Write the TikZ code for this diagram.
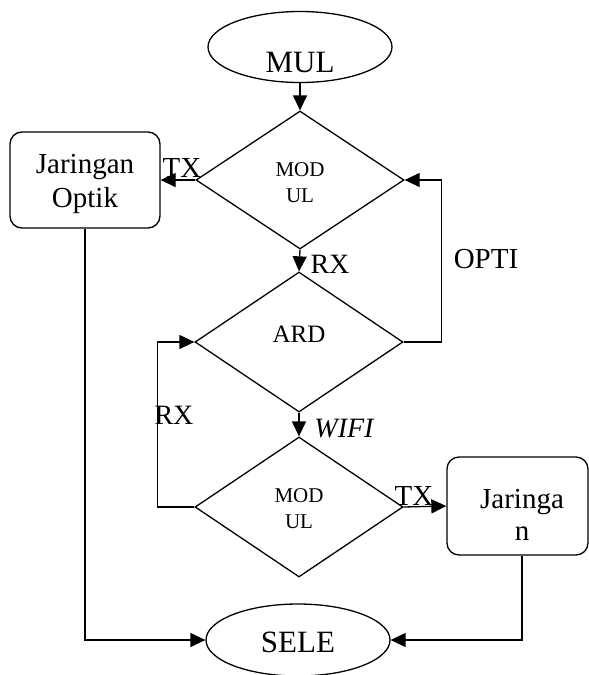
\documentclass[tikz,border=0pt]{standalone}
\usepackage{fontspec}
\setmainfont{Liberation Serif}
\usetikzlibrary{shapes.geometric,arrows.meta}
\begin{document}
\begin{tikzpicture}[x=1pt,y=-1pt,
  line width=1.3pt,
  conn/.style={-{Triangle[length=15pt,width=14pt]}},
  dia/.style={draw,diamond,minimum width=208pt,minimum height=140pt,inner sep=0pt},
  oval/.style={draw,ellipse,minimum width=184pt,minimum height=72pt,inner sep=0pt},
  box/.style={draw,rectangle,rounded corners=12pt,inner sep=0pt},
  txt/.style={anchor=base,inner sep=0pt,font=\fontsize{29}{32}\selectfont},
  bigtxt/.style={anchor=base,inner sep=0pt,font=\fontsize{31}{34}\selectfont},
  midtxt/.style={anchor=base,inner sep=0pt,font=\fontsize{25}{28}\selectfont},
  smalltxt/.style={anchor=base,inner sep=0pt,font=\fontsize{21}{24}\selectfont},
  lbltxt/.style={anchor=base,inner sep=0pt,font=\fontsize{28}{30}\selectfont}
]
\useasboundingbox (0,0) rectangle (589,675);

% shapes
\node[oval,minimum height=71pt] (mul) at (300,47) {};
\node[dia,minimum height=138pt] (d1) at (300,180) {};
\node[dia] (d2) at (299,342) {};
\node[dia] (d3) at (299,507) {};
\node[oval] (sele) at (298,640) {};
\node[box,minimum width=150pt,minimum height=96pt] (jo) at (85,180) {};
\node[box,minimum width=141pt,minimum height=98pt] (jr) at (517.5,506) {};

% texts
\node[bigtxt] (tmul) at (300,72) {MUL};
\node[smalltxt] (tmod1) at (300,176) {MOD};
\node[smalltxt] (tul1) at (300,202) {UL};
\node[midtxt] (tard) at (299,342) {ARD};
\node[smalltxt] (tmod3) at (299,502) {MOD};
\node[smalltxt] (tul3) at (299,528) {UL};
\node[bigtxt] (tsele) at (298,652) {SELE};
\node[txt] (tjo1) at (85,173) {Jaringan};
\node[txt] (tjo2) at (85,207) {Optik};
\node[txt] (tjr1) at (522,508) {Jaringa};
\node[txt] (tjr2) at (522,540) {n};

% labels
\node[txt] (ltx1) at (182,177) {TX};
\node[lbltxt] (lrx1) at (330,273) {RX};
\node[txt] (lopti) at (486,268) {OPTI};
\node[lbltxt] (lrx2) at (174,424) {RX};
\node[lbltxt] (lwifi) at (344,437) {\itshape WIFI};
\node[txt] (ltx2) at (414,505) {TX};

% connectors
\coordinate (jrb) at ([xshift=4.5pt]jr.south);
\draw[conn] (mul.south) -- (d1.north);
\draw[conn] (d1.west) -- (jo.east);
\draw[conn] (d1.south) -- (d2.north);
\draw[conn] (d2.east) -- ++(38,0) |- (d1.east);
\draw[conn] (d2.south) -- (d3.north);
\draw[conn] (d3.west) -- ++(-37,0) |- (d2.west);
\draw[conn] (d3.east) -- (jr.west);
\draw[conn] (jo.south) |- (sele.west);
\draw[conn] (jrb) |- (sele.east);
\end{tikzpicture}
\end{document}
